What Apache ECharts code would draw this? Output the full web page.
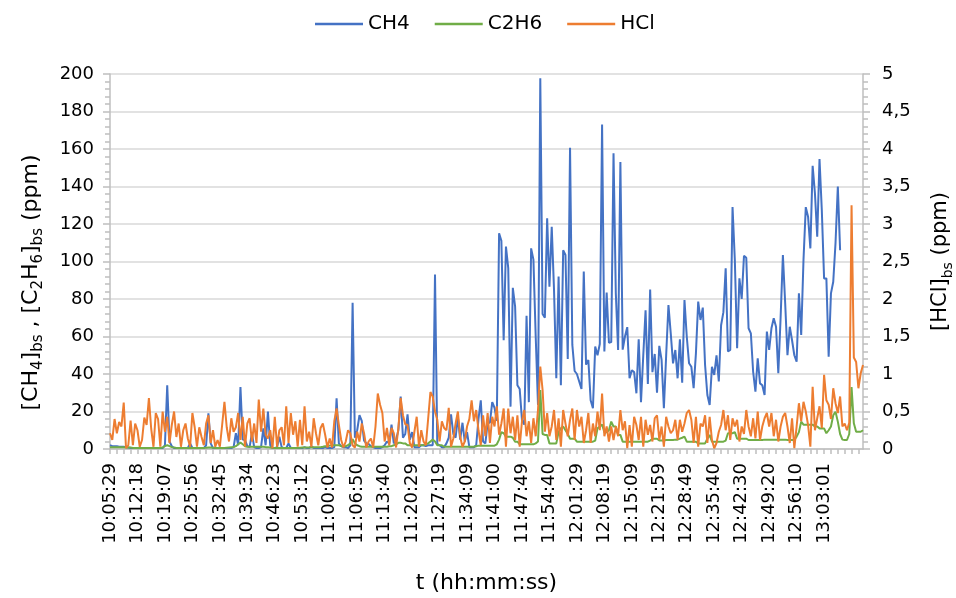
<!DOCTYPE html>
<html>
<head>
<meta charset="utf-8">
<script src="https://cdn.jsdelivr.net/npm/echarts@6/dist/echarts.min.js"></script>
<style>
html,body{margin:0;padding:0;background:#fff;}
#chart{width:956px;height:598px;}
</style>
</head>
<body>
<div id="chart"></div>
<script>
const tickLabels = ['10:05:29','10:12:18','10:19:07','10:25:56','10:32:45','10:39:34','10:46:23','10:53:12','11:00:02','11:06:50','11:13:40','11:20:29','11:27:19','11:34:09','11:41:00','11:47:49','11:54:40','12:01:29','12:08:19','12:15:09','12:21:59','12:28:49','12:35:40','12:42:30','12:49:20','12:56:10','13:03:01'];

const ch4 = [
2,1.5,1.5,1.5,1.2,1.2,1.2,1,0.8,0.5,
0.5,0.5,0.5,0.5,0.5,0.5,0.5,0.5,0.5,0.5,
0.5,0.5,0.5,0.5,2,34,4,1.5,0.5,0.5,
0.5,0.5,0.5,0.5,0.5,3,0.5,0.5,0.5,0.5,
0.5,0.5,2,19,3,0.5,0.5,0.5,0.5,0.5,
0.5,0.5,0.5,0.5,1,8.4,2,33,5,4.8,
1.5,1,8.5,1,0.5,0.5,1,11,2,20,
2,0.5,0.5,1,6.5,1,0.5,0.5,3,0.5,
0.5,0.5,0.5,0.5,0.5,1,0.5,0.5,1.5,0.5,
0.5,0.5,0.5,0.5,1,0.5,0.5,0.5,1,27,
3,1.5,1,1,0.5,2,78,6,10,18,
15,4.5,3,2.7,1.5,1,0.5,0.5,0.5,1,
2,4,3,13,3,5,10,28,6,8,
18.5,5,9,1,1,1,2,2,1.5,2,
2,2,93,2.7,2,1,1,3,6,18.5,
8,6,17,5,14,4,9,1,1,1,
2,16,26,4,3,14,14,25,22,15,
115,111,58,108,96.5,22.6,86,76,34,32,
15.5,13,71,25,107,101,60,23.5,197.7,72,
70,123,86.5,118.5,85,37.7,92,34,106,103.5,
48,160.7,55.5,41.6,40,36,32,94.6,45,47.5,
26,21.7,54.6,50,56,173,52,83.4,56.7,57,
157.7,83,52.8,153,53,60,65,37.7,42,41,
29.7,58.5,25,50,74,34.7,85,41,50.7,30,
55,47.5,21.7,50,76.8,61.7,45.7,52.8,37.7,58.5,
35.4,79.5,60,45.7,43.9,32.4,51,78.6,68.8,75.4,
44.8,28.8,23.5,43.9,39.5,50,36,66,73,96.4,
52,52.8,129,100.8,53.7,91,80,103,102,64.4,
61.7,41.2,30.6,48.4,35,34,28.8,62.6,52.8,64.4,
69.7,65.2,40.4,70,103.5,77.7,50,65.2,58,50,
46.6,83,60.8,100.8,129,123.9,107,151,136.4,113.2,
154.7,127.5,91,91,49.2,83,89.2,110,140,106,
null,null,null,null,null,null,null,null,null,null
];

const c2h6 = [
1,1,1,1,0.9,0.9,0.9,0.8,0.8,0.8,
0.6,0.6,0.6,0.6,0.6,0.6,0.6,0.6,0.6,0.6,
0.6,0.6,0.6,0.8,1.5,2,1.5,1,0.8,0.6,
0.6,0.6,0.6,0.6,0.6,0.6,0.6,0.6,0.6,0.6,
0.6,0.6,0.7,0.8,0.8,0.7,0.6,0.6,0.6,0.6,
0.6,0.7,0.8,0.9,1,1.5,2.5,3.4,2.5,1.5,
1.2,1.2,1.2,1.2,1.2,1.2,1.2,1.2,1,1,
0.8,0.6,0.5,0.5,0.5,0.5,0.6,0.6,0.6,0.6,
0.6,0.6,0.6,0.7,0.8,0.8,0.8,0.8,1,1,
1,1,1,1.2,1.5,1.5,1.8,2,2,2,
2,1.5,1.5,1.5,2,3,5.2,3,2,1.5,
1.2,1.2,1.2,1.2,1.2,1.2,1.2,1.2,1.2,1.2,
1.2,1.2,1.5,1.5,2,2.5,3.3,3.3,3,3,
2,2,2,2,2,2,2,2,2.5,3,
4,5,4,2,2,2,1.2,1.2,1.2,1.2,
1.2,1.2,1.2,1.2,1.2,1.2,1.2,1.2,1.2,1.2,
1.5,1.8,1.8,1.8,1.8,1.8,1.8,1.8,1.8,2.5,
5,9,8.4,6.6,6.6,6.6,6,3.9,3.9,2.5,
2.5,2.5,2.5,2.5,2.5,2.5,3,4,31.5,8,
7.5,7.5,3,3,3,3,9,11,12,10,
8,5.5,5.5,5.5,3.9,3.9,3.9,3.9,3.9,3.9,
3.9,3.9,4.5,11,12,13,9,9,10,14.6,
12,12,7.5,7.5,3.9,3.9,3.9,3.9,3.9,3.9,
3.9,3.9,3.9,3.9,3.9,3.9,4.5,5.5,5.5,5.5,
4.5,4.5,4.5,4.8,4.8,4.8,4.8,5,5,5.5,
6,6.6,3.9,3.9,3.9,3.9,3.9,3,3,3,
3,5.5,7.5,3.9,3.9,3.9,3.9,3.9,3.9,4.5,
8.4,8.4,8.4,9,5.5,5.5,5.5,5.5,5.5,4.8,
4.8,4.8,4.8,4.8,4.8,4.8,5,5,5,5,
5,5,5,5,5,5,4.8,4.8,4.8,4.8,
6.6,9,14.6,13,13,13,13,13,12,12,
11,11,11,8.4,10,12,18,19.9,14.6,8,
5,4.8,4.8,8,33,13.7,9.2,9.2,9.2,10
];

const hcl = [
0.21,0.12,0.40,0.21,0.36,0.30,0.62,0.01,0.05,0.38,
0.05,0.34,0.25,0.03,0.12,0.42,0.32,0.68,0.27,0.03,
0.48,0.40,0.03,0.50,0.23,0.43,0.08,0.32,0.50,0.16,
0.34,0.03,0.25,0.34,0.14,0.03,0.48,0.29,0.03,0.29,
0.16,0.05,0.34,0.45,0.08,0.25,0.03,0.12,0.03,0.32,
0.63,0.29,0.10,0.41,0.23,0.29,0.48,0.12,0.43,0.03,
0.34,0.41,0.10,0.34,0.08,0.66,0.23,0.54,0.19,0.14,
0.25,0.01,0.43,0.03,0.25,0.29,0.05,0.57,0.08,0.48,
0.19,0.37,0.03,0.39,0.05,0.57,0.10,0.23,0.03,0.41,
0.21,0.05,0.28,0.34,0.19,0.02,0.14,0.02,0.37,0.54,
0.32,0.12,0.02,0.10,0.25,0.21,0.05,0.02,0.23,0.10,
0.34,0.21,0.02,0.10,0.14,0.02,0.30,0.74,0.59,0.48,
0.10,0.28,0.05,0.28,0.21,0.02,0.28,0.68,0.45,0.33,
0.32,0.08,0.02,0.23,0.43,0.03,0.25,0.10,0.05,0.40,
0.76,0.70,0.50,0.39,0.10,0.37,0.28,0.25,0.55,0.03,
0.14,0.34,0.50,0.16,0.03,0.10,0.30,0.40,0.65,0.37,
0.52,0.25,0.05,0.45,0.17,0.48,0.08,0.43,0.30,0.57,
0.19,0.34,0.54,0.03,0.54,0.21,0.43,0.12,0.45,0.03,
0.37,0.52,0.17,0.37,0.08,0.41,0.17,0.52,1.10,0.79,
0.23,0.48,0.17,0.30,0.52,0.12,0.41,0.03,0.52,0.34,
0.17,0.39,0.54,0.12,0.52,0.30,0.43,0.08,0.25,0.48,
0.08,0.34,0.17,0.50,0.25,0.74,0.17,0.30,0.10,0.30,
0.12,0.30,0.17,0.52,0.25,0.37,0.01,0.32,0.03,0.43,
0.32,0.12,0.43,0.03,0.39,0.19,0.32,0.10,0.41,0.45,
0.12,0.30,0.03,0.43,0.30,0.21,0.25,0.39,0.12,0.39,
0.23,0.34,0.48,0.52,0.39,0.08,0.43,0.03,0.34,0.30,
0.45,0.08,0.43,0.12,0.01,0.08,0.23,0.32,0.52,0.25,
0.45,0.12,0.41,0.30,0.39,0.10,0.30,0.20,0.52,0.30,
0.17,0.41,0.14,0.50,0.12,0.30,0.41,0.48,0.30,0.48,
0.17,0.39,0.10,0.30,0.43,0.48,0.30,0.08,0.41,0.01,
0.30,0.61,0.37,0.63,0.50,0.32,0.03,0.83,0.25,0.41,
0.57,0.28,0.99,0.65,0.59,0.40,0.81,0.61,0.48,0.70,
0.30,0.34,0.25,0.35,3.25,1.22,1.16,0.81,1.01,1.12
];

const seriesNames = ['CH4', 'C2H6', 'HCl'];
const seriesColors = ['#4472C4', '#70AD47', '#ED7D31'];
const pointsPerLabel = 12;
const secondsPerLabel = 410;

function toSec(s){ const p = s.split(':').map(Number); return p[0]*3600 + p[1]*60 + p[2]; }
function fromSec(t){ const h = Math.floor(t/3600), m = Math.floor((t%3600)/60), s = t%60;
  return h + ':' + String(m).padStart(2,'0') + ':' + String(s).padStart(2,'0'); }

// category names: the tick labels, with the hidden sample times in between
const categories = [];
const lastK = tickLabels.length - 1;
for (let i = 0; i < hcl.length; i++) {
  const k = Math.floor(i / pointsPerLabel), j = i % pointsPerLabel;
  if (k <= lastK && j === 0) { categories.push(tickLabels[k]); continue; }
  let t;
  if (k < lastK) {
    const t0 = toSec(tickLabels[k]), t1 = toSec(tickLabels[k + 1]);
    t = t0 + j * (t1 - t0) / pointsPerLabel;
  } else {
    t = toSec(tickLabels[lastK]) + (i - lastK * pointsPerLabel) * secondsPerLabel / pointsPerLabel;
  }
  categories.push(fromSec(Math.round(t)));
}

const FONT = 'DejaVu Sans';
const axisGrey = '#bfbfbf';
const chart = echarts.init(document.getElementById('chart'), null, {renderer: 'canvas'});
function subRich(size, subSize) {
  return {
    n: {fontSize: size, lineHeight: size + 8, verticalAlign: 'middle', color: '#000', fontFamily: FONT},
    s: {fontSize: subSize, lineHeight: subSize, verticalAlign: 'bottom', color: '#000', fontFamily: FONT}
  };
}

chart.setOption({
  animation: false,
  textStyle: {fontFamily: FONT, color: '#000'},
  legend: {
    top: 9, left: 310, icon: 'rect', itemWidth: 48, itemHeight: 2.5, itemGap: 25,
    data: seriesNames,
    textStyle: {fontSize: 20, color: '#000', fontFamily: FONT}
  },
  grid: {left: 110, right: 93, top: 74, bottom: 149, outerBoundsMode: 'none', containLabel: false},
  xAxis: {
    type: 'category', data: categories, boundaryGap: false,
    axisLine: {lineStyle: {color: axisGrey, width: 1.5}},
    axisTick: {interval: 2, length: 5, lineStyle: {color: axisGrey, width: 1.5}},
    axisLabel: {
      interval: (idx) => idx % pointsPerLabel === 0 && idx / pointsPerLabel <= lastK,
      rotate: 90, fontSize: 18, color: '#000', margin: 14, fontFamily: FONT
    },
    splitLine: {show: false},
    name: 't (hh:mm:ss)', nameLocation: 'middle', nameGap: 123,
    nameTextStyle: {fontSize: 22, color: '#000', fontFamily: FONT}
  },
  yAxis: [{
    type: 'value', min: 0, max: 200, interval: 20,
    axisLine: {show: true, lineStyle: {color: axisGrey, width: 1.5}},
    axisTick: {show: true, length: 7, lineStyle: {color: axisGrey, width: 1.5}},
    minorTick: {show: true, splitNumber: 5, length: 5, lineStyle: {color: axisGrey, width: 1.5}},
    axisLabel: {fontSize: 18, color: '#000', margin: 16, fontFamily: FONT},
    splitLine: {show: true, lineStyle: {color: '#d9d9d9', width: 1.5}},
    name: '{n|[CH}{s|4}{n|]}{s|bs}{n| , [C}{s|2}{n|H}{s|6}{n|]}{s|bs}{n| (ppm)}',
    nameLocation: 'middle', nameRotate: 90, nameGap: 64,
    nameTextStyle: {rich: subRich(22, 15), padding: [0, 42, 0, 0]}
  }, {
    type: 'value', min: 0, max: 5, interval: 0.5, position: 'right',
    axisLine: {show: true, lineStyle: {color: axisGrey, width: 1.5}},
    axisTick: {show: true, length: 7, lineStyle: {color: axisGrey, width: 1.5}},
    minorTick: {show: true, splitNumber: 5, length: 5, lineStyle: {color: axisGrey, width: 1.5}},
    axisLabel: {fontSize: 18, color: '#000', margin: 19, fontFamily: FONT,
      formatter: v => String(v).replace('.', ',')},
    splitLine: {show: false},
    name: '{n|[HCl]}{s|bs}{n| (ppm)}',
    nameLocation: 'middle', nameRotate: 90, nameGap: 63,
    nameTextStyle: {rich: subRich(21, 14)}
  }],
  series: [
    {name: seriesNames[0], type: 'line', data: ch4, yAxisIndex: 0, symbol: 'none', connectNulls: false,
     lineStyle: {color: seriesColors[0], width: 2}, itemStyle: {color: seriesColors[0]}},
    {name: seriesNames[1], type: 'line', data: c2h6, yAxisIndex: 0, symbol: 'none',
     lineStyle: {color: seriesColors[1], width: 2}, itemStyle: {color: seriesColors[1]}},
    {name: seriesNames[2], type: 'line', data: hcl, yAxisIndex: 1, symbol: 'none',
     lineStyle: {color: seriesColors[2], width: 2}, itemStyle: {color: seriesColors[2]}}
  ]
});
</script>
</body>
</html>
